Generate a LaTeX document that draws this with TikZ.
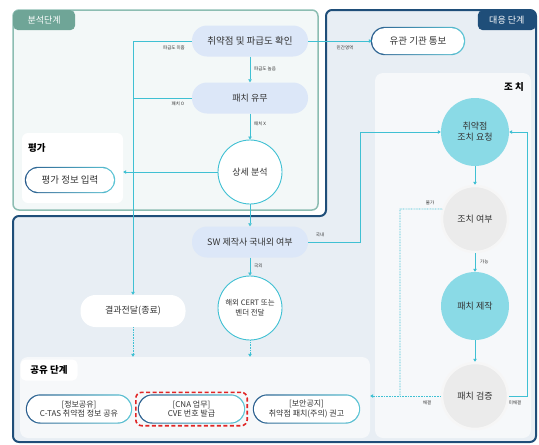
\documentclass[tikz,border=0pt]{standalone}
\usepackage{fontspec}
\setmainfont{Noto Sans CJK KR}
\usetikzlibrary{arrows.meta,fit}
\definecolor{navy}{HTML}{1F4E79}
\definecolor{respF}{HTML}{E8EEF4}
\definecolor{anaB}{HTML}{8CBDB2}
\definecolor{anaT}{HTML}{6FA597}
\definecolor{anaF}{HTML}{F3F8F8}
\definecolor{pillB}{HTML}{DCE7F8}
\definecolor{cyanl}{HTML}{3FC0D3}
\definecolor{tealF}{HTML}{8ADAE6}
\definecolor{grayF}{HTML}{EBEBEB}
\definecolor{grayB}{HTML}{F6F6F6}
\definecolor{panelF}{HTML}{F6F8FA}
\definecolor{gL}{HTML}{2B5E8E}
\definecolor{gR}{HTML}{5CC6D6}
\definecolor{redD}{HTML}{E02424}
\definecolor{txt}{HTML}{333333}
\newcommand\gpill[6]{%
  \node[shape=rectangle, left color=gL, right color=gR, draw=none,
        rounded corners={(#4+2.4)/2}, minimum width={#3+2.4}, minimum height={#4+2.4}, inner sep=0pt] at #2 {};
  \node[shape=rectangle, fill=white, rounded corners={#4/2}, minimum width=#3, minimum height=#4,
        inner sep=0pt, align=center, text=txt, font=\fontsize{#5}{9.8}\selectfont] (#1) at #2 {#6};
}
\begin{document}
\begin{tikzpicture}[x=1pt,y=-1pt,
  every node/.style={text=txt, inner sep=1pt},
  conn/.style={draw=cyanl, line width=0.6pt, -{Triangle[length=3pt,width=3.5pt]}},
  plain/.style={draw=cyanl, line width=0.6pt},
  dconn/.style={conn, dash pattern=on 0.8pt off 0.8pt},
  dplain/.style={plain, dash pattern=on 0.8pt off 0.8pt},
  lbl/.style={font=\fontsize{4.5}{5}\selectfont, text=txt},
  mainf/.style={font=\fontsize{9}{11}\selectfont},
  bluepill/.style={mainf, fill=pillB, rounded corners=15pt, minimum height=31pt, minimum width=116pt},
  whitepill/.style={mainf, fill=white, rounded corners=15pt, minimum height=32pt, minimum width=105pt},
  circW/.style={mainf, circle, draw=cyanl, line width=0.9pt, fill=white, minimum size=64pt, inner sep=0pt, align=center},
  circT/.style={mainf, circle, fill=tealF, minimum size=68pt, inner sep=0pt, align=center},
  circG/.style={mainf, circle, fill=grayF, draw=grayB, line width=2.5pt, minimum size=66pt, inner sep=0pt, align=center},
  paneltitle/.style={font=\bfseries\fontsize{9.5}{11}\selectfont, text=black},
  tabtext/.style={font=\fontsize{9}{11}\selectfont, text=white, inner sep=0pt}
]
\useasboundingbox (0,0) rectangle (539,445);

% ---- stage backgrounds
\draw[draw=anaB, fill=anaF, line width=1.5pt, rounded corners=6pt] (13,10) rectangle (318,210);
\node[fill=anaT, rounded corners=5pt, minimum width=62pt, minimum height=20pt, anchor=north west, tabtext] (tabA) at (13,10) {분석단계};
\draw[draw=navy, fill=respF, line width=2pt, rounded corners=6pt]
  (326,10) -- (536,10) -- (536,442) -- (13,442) -- (13,216) -- (326,216) -- cycle;
\node[fill=navy, rounded corners=5pt, minimum width=58pt, minimum height=20pt, anchor=north east, tabtext] (tabR) at (536,10) {대응 단계};

% ---- panels
\node[fill=white, rounded corners=6pt, minimum width=101pt, minimum height=70pt] (evalp) at (72.5,168) {};
\node[paneltitle, anchor=west] (evalt) at (27,148) {평가};
\node[fill=panelF, rounded corners=8pt, minimum width=156pt, minimum height=365pt] (jpanel) at (453,255.5) {};
\node[paneltitle, anchor=east] (jt) at (525,87) {조 치};
\node[fill=panelF, rounded corners=8pt, minimum width=350pt, minimum height=81pt] (share) at (195,397.5) {};
\node[fill=white, rounded corners=5pt, minimum width=57pt, minimum height=21pt, paneltitle] (sharet) at (49,370) {공유 단계};

% ---- analysis nodes
\node[bluepill, font=\fontsize{9.5}{11}\selectfont] (chk) at (250,41) {취약점 및 파급도 확인};
\node[bluepill] (patch) at (250,98) {패치 유무};
\node[circW] (detail) at (250,172) {상세 분석};
\gpill{evalin}{(70,180)}{88}{24}{9.5}{평가 정보 입력}

% ---- response nodes
\gpill{notice}{(418,41)}{92}{26}{9.5}{유관 기관 통보}
\node[bluepill] (sw) at (250,242) {SW 제작사 국내외 여부};
\node[whitepill] (res) at (133,311) {결과전달(종료)};
\node[circW, font=\fontsize{7.5}{10}\selectfont] (cert) at (250,308) {해외 CERT 또는\\벤더 전달};
\node[circT] (req) at (475,132) {취약점\\조치 요청};
\node[circG] (jochi) at (475,219) {조치 여부};
\node[circT] (make) at (475,306) {패치 제작};
\node[circG] (verify) at (475,396) {패치 검증};

% ---- share nodes
\gpill{ctas}{(79,409)}{104}{27}{8}{[정보공유]\\C-TAS 취약점 정보 공유}
\gpill{cna}{(191.5,409)}{105}{27}{8}{[CNA 업무]\\CVE 번호 발급}
\gpill{notice2}{(306.5,409)}{105}{27}{8}{[보안공지]\\취약점 패치(주의) 권고}
\node[fit=(cna), inner sep=3pt, draw=redD, line width=1.6pt, dash pattern=on 4pt off 2.5pt, rounded corners=6pt] (cnabox) {};

% ---- connectors (analysis)
\draw[conn] (chk.west) -| (res.north);
\node[lbl] (l1) at (174,48) {파급도 미흡};
\draw[plain] (patch.west) -- (patch.west -| res.north);
\node[lbl] (l2) at (178,104) {패치 O};
\draw[conn] (chk.south) -- (patch.north);
\node[lbl, anchor=west] (l3) at (253,69) {파급도 높음};
\draw[conn] (patch.south) -- (detail.north);
\node[lbl, anchor=west] (l4) at (253,124) {패치 X};
\draw[conn] (detail.west) -- (detail.west -| evalp.east);

% ---- connectors (response)
\draw[conn] (chk.east) -- (notice.west);
\node[lbl] (l5) at (345,48) {민간영역};
\draw[conn] (detail.south) -- (sw.north);
\coordinate (k1) at (360,242);
\draw[conn] (sw.east) -- (k1) |- (req.west);
\node[lbl] (l6) at (320,235) {국내};
\draw[conn] (sw.south) -- (cert.north);
\node[lbl, anchor=west] (l7) at (253,266) {국외};
\draw[dconn] (res.south) -- (res.south |- share.north);
\draw[dconn] (cert.south) -- (cert.south |- share.north);

\draw[conn] (req.south) -- (jochi.north);
\draw[conn] (jochi.south) -- (make.north);
\node[lbl, anchor=west] (l8) at (479,262) {가능};
\draw[conn] (make.south) -- (verify.north);
\coordinate (k2) at (527,396);
\draw[conn] (verify.east) -- (k2) |- (req.east);
\node[lbl] (l9) at (515,403) {미해결};
\coordinate (k3) at (400,209);
\coordinate (k4) at (400,396);
\draw[dplain] (jochi.163) -- (k3) -- (k4);
\node[lbl] (l10) at (430,203) {불가};
\draw[dconn] (verify.west) -- (verify.west -| share.east);
\node[lbl] (l11) at (427,403) {해결};
\end{tikzpicture}
\end{document}
